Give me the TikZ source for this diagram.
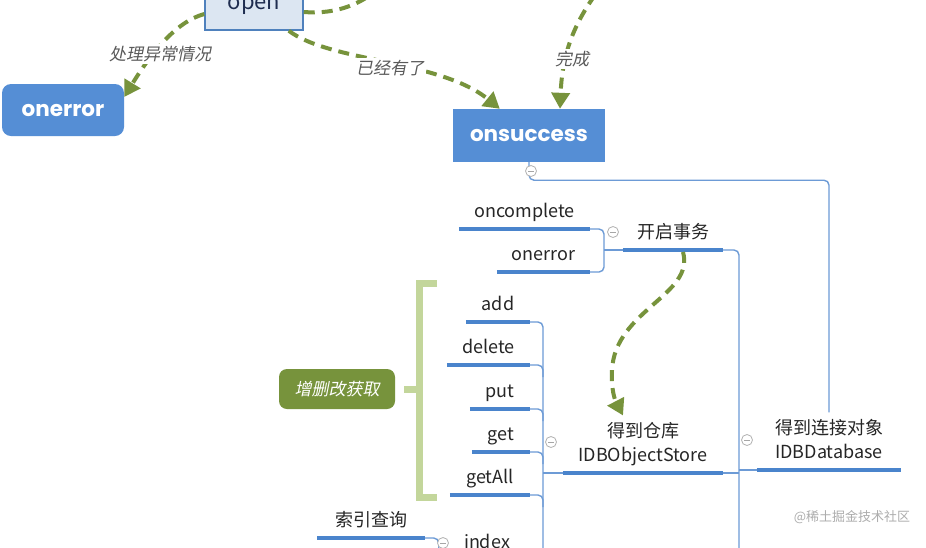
\documentclass[tikz,border=0pt]{standalone}
\usepackage{fontspec}
\setmainfont{Noto Sans CJK SC}
\newfontfamily\pop{Poppins}
\newfontfamily\slant{Noto Sans CJK SC}[FakeSlant=0.2]
\usetikzlibrary{arrows.meta,calc}
\definecolor{boxblue}{HTML}{558ED5}
\definecolor{openfill}{HTML}{DCE6F2}
\definecolor{openedge}{HTML}{4F81BD}
\definecolor{navy}{HTML}{1F2D50}
\definecolor{dgreen}{HTML}{77933C}
\definecolor{lgreen}{HTML}{C3D69B}
\definecolor{lineblue}{HTML}{6D9BD6}
\definecolor{barblue}{HTML}{4A84CC}
\definecolor{txt}{HTML}{262626}
\definecolor{lbl}{HTML}{595959}
\definecolor{wm}{HTML}{ADADAD}
\tikzset{
  topic/.style={font=\fontsize{18}{24}\selectfont, text=txt, inner xsep=0pt, inner ysep=7pt,
    text height=12pt, text depth=4pt, anchor=south},
  topictwo/.style={font=\fontsize{18}{24}\selectfont, text=txt, inner xsep=0pt, inner ysep=7pt,
    align=center, anchor=south},
  bar/.style={draw=barblue, line width=4pt},
  conn/.style={draw=lineblue, line width=1.4pt, rounded corners=5pt},
  flowline/.style={draw=dgreen, line width=4pt, dash pattern=on 11pt off 7pt},
  flow/.style={flowline, -{Triangle[length=16pt,width=18pt]}},
  flowlbl/.style={font=\slant\fontsize{17}{20}\selectfont, text=lbl, fill=white, inner sep=2pt},
  bluebox/.style={fill=boxblue, text=white, font=\pop\bfseries\fontsize{21.5}{23}\selectfont},
  collapse/.style={circle, draw=gray!60, fill=white, line width=0.8pt, minimum size=11pt, inner sep=0pt,
    path picture={\draw[gray!70,line width=1pt]
      ($(path picture bounding box.center)+(-3pt,0pt)$) -- ($(path picture bounding box.center)+(3pt,0pt)$);}},
}
\begin{document}
\begin{tikzpicture}[x=1pt,y=-1pt]
\fill[white] (0,0) rectangle (926,547);
\useasboundingbox (0,0) rectangle (926,547);

% main boxes
\node[draw=openedge, fill=openfill, line width=1.5pt, minimum width=98pt, minimum height=60pt,
  font=\fontsize{22}{24}\selectfont, text=navy, text height=20pt, text depth=2pt] (open) at (254,0) {open};
\node[bluebox, rounded corners=9pt, minimum width=122pt, minimum height=52pt] (onerror) at (63,110) {onerror};
\node[bluebox, minimum width=152pt, minimum height=53pt] (onsuccess) at (529,135.5) {onsuccess};
\node[fill=dgreen, rounded corners=8pt, minimum width=116pt, minimum height=40pt,
  font=\slant\fontsize{17}{20}\selectfont, text=white] (crud) at (337,389) {增删改获取};

% topics
\node[topic, minimum width=131pt] (oncomplete) at (524.5,229) {oncomplete};
\node[topic, minimum width=93pt] (onerrorb) at (543.5,272) {onerror};
\node[topic, minimum width=100pt] (kaiqi) at (673,250) {开启事务};
\node[topic, minimum width=64pt] (add) at (498,322) {add};
\node[topic, minimum width=83pt] (delete) at (488.5,365) {delete};
\node[topic, minimum width=60pt] (put) at (500,409) {put};
\node[topic, minimum width=58pt] (get) at (501,452) {get};
\node[topic, minimum width=80pt] (getAll) at (490,495) {getAll};
\node[topic, minimum width=107pt] (suoyin) at (371,538) {索引查询};
\node[topic, minimum width=70pt] (index) at (487,560) {index};
\node[topictwo, minimum width=160pt, text depth=4pt] (store) at (643,473) {得到仓库\\IDBObjectStore};
\node[topictwo, minimum width=144pt, text depth=4pt] (idbdb) at (829,470) {得到连接对象\\IDBDatabase};

% thin connectors
\coordinate (trunkA) at (739,580);
\coordinate (trunkB) at (604,250);
\coordinate (trunkC) at (543,590);
\draw[conn] (onsuccess.south) -- ++(0,18) -| (idbdb.north);
\draw[conn] (kaiqi.south east) -| (trunkA);
\draw[conn] (store.south east) -- (store.south east -| trunkA);
\draw[conn] (idbdb.south west) -- (idbdb.south west -| trunkA);
\draw[conn] (oncomplete.south east) -| (trunkB) |- (onerrorb.south east);
\draw[conn] (trunkB) -- (kaiqi.south west);
\draw[conn] (add.south east) -| (trunkC);
\foreach \n in {delete,put,get,getAll}
  \draw[conn] (\n.south east) -| ($(\n.south east -| trunkC)+(0,12)$);
\draw[conn] (store.south west -| trunkC) -- (store.south west);
\draw[conn] (suoyin.south east) -- ++(14,0) |- (index.south west);

% bars
\foreach \n in {oncomplete,onerrorb,kaiqi,add,delete,put,get,getAll,suoyin,index,store,idbdb}
  \draw[bar] (\n.south west) -- (\n.south east);

% summary bracket
\draw[lgreen, line width=7pt] (437,283) -- (419,283) -- (419,497) -- (437,497);
\draw[lgreen, line width=7pt] (419,389) -- ($(crud.east)+(9,0)$);

% dashed flows
\coordinate (topsrc) at (595,-5);
\coordinate (rightexit) at (372,-6);
\draw[flow] ($(open.west)+(0,14)$) .. controls (175,22) and (150,55) .. ($(onerror.east)+(0,-13)$);
\draw[flow] ($(open.south east)+(-15,0)$) .. controls (330,62) and (440,60) .. ($(onsuccess.north west)+(47,0)$);
\draw[flow] (topsrc) .. controls (570,30) and (562,60) .. ($(onsuccess.north)+(31,0)$);
\draw[flowline] ($(open.east)+(0,12)$) .. controls (330,14) and (352,8) .. (rightexit);
\draw[flow] ($(kaiqi.south)+(10,2)$) .. controls (695,295) and (615,310) .. (612,370)
  .. controls (611,390) and (615,400) .. ($(store.north)+(-20,0)$);

\node[flowlbl] (l1) at (160,54) {处理异常情况};
\node[flowlbl] (l2) at (390,68) {已经有了};
\node[flowlbl] (l3) at (572,59) {完成};

% collapse markers
\node[collapse] (c1) at (531,171) {};
\node[collapse] (c2) at (613,232) {};
\node[collapse] (c3) at (551,442) {};
\node[collapse] (c4) at (747,440) {};
\node[collapse] (c5) at (443,543) {};

% watermark
\node[font=\fontsize{13}{15}\selectfont, text=wm] (wm) at (852,517) {@稀土掘金技术社区};
\end{tikzpicture}
\end{document}
